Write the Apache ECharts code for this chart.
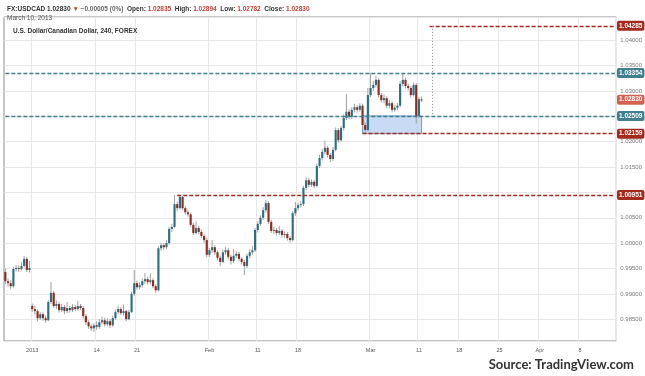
<!DOCTYPE html>
<html>
<head>
<meta charset="utf-8">
<script src="https://cdn.jsdelivr.net/npm/echarts@6/dist/echarts.min.js"></script>
<style>
html, body { margin: 0; padding: 0; background: #fff; }
#chart { width: 645px; height: 376px; }
</style>
</head>
<body>
<div id="chart"></div>
<script>
// USD/CAD, Dec 27 2012 - Mar 10 2013, 3 slots per trading day
var slotCount = 228;

// [open, close, low, high]
var candles = [
    [0.9943, 0.9925, 0.9919, 0.9951],
    [0.9925, 0.9921, 0.9914, 0.9931],
    [0.9921, 0.9915, 0.9909, 0.9927],
    [0.9915, 0.9949, 0.9912, 0.9953],
    [0.9949, 0.9951, 0.9944, 0.9957],
    [0.9951, 0.9949, 0.9943, 0.9956],
    [0.9949, 0.9955, 0.9946, 0.9962],
    [0.9955, 0.9969, 0.9952, 0.9975],
    [0.9969, 0.9947, 0.9943, 0.9973],
    [0.9947, 0.9951, 0.9942, 0.9965],
    [0.9876, 0.9870, 0.9864, 0.9881],
    [0.9870, 0.9866, 0.9859, 0.9876],
    [0.9866, 0.9852, 0.9846, 0.9870],
    [0.9852, 0.9860, 0.9848, 0.9864],
    [0.9860, 0.9852, 0.9847, 0.9864],
    [0.9852, 0.9848, 0.9843, 0.9857],
    [0.9848, 0.9884, 0.9846, 0.9888],
    [0.9884, 0.9902, 0.9880, 0.9923],
    [0.9902, 0.9876, 0.9872, 0.9906],
    [0.9876, 0.9880, 0.9870, 0.9887],
    [0.9880, 0.9868, 0.9863, 0.9884],
    [0.9868, 0.9874, 0.9864, 0.9880],
    [0.9874, 0.9866, 0.9860, 0.9878],
    [0.9866, 0.9872, 0.9862, 0.9884],
    [0.9872, 0.9868, 0.9863, 0.9876],
    [0.9868, 0.9874, 0.9864, 0.9880],
    [0.9874, 0.9870, 0.9866, 0.9878],
    [0.9870, 0.9876, 0.9867, 0.9886],
    [0.9876, 0.9872, 0.9868, 0.9880],
    [0.9872, 0.9856, 0.9851, 0.9876],
    [0.9856, 0.9844, 0.9839, 0.9860],
    [0.9844, 0.9836, 0.9831, 0.9848],
    [0.9836, 0.9832, 0.9827, 0.9840],
    [0.9832, 0.9838, 0.9825, 0.9842],
    [0.9838, 0.9835, 0.9829, 0.9846],
    [0.9835, 0.9844, 0.9831, 0.9850],
    [0.9844, 0.9848, 0.9840, 0.9855],
    [0.9848, 0.9840, 0.9835, 0.9853],
    [0.9840, 0.9846, 0.9836, 0.9852],
    [0.9846, 0.9838, 0.9833, 0.9850],
    [0.9838, 0.9852, 0.9835, 0.9857],
    [0.9852, 0.9864, 0.9849, 0.9869],
    [0.9864, 0.9870, 0.9860, 0.9877],
    [0.9870, 0.9862, 0.9858, 0.9874],
    [0.9862, 0.9866, 0.9857, 0.9879],
    [0.9866, 0.9850, 0.9846, 0.9869],
    [0.9850, 0.9864, 0.9848, 0.9868],
    [0.9864, 0.9900, 0.9862, 0.9904],
    [0.9900, 0.9921, 0.9896, 0.9947],
    [0.9921, 0.9913, 0.9908, 0.9926],
    [0.9913, 0.9917, 0.9909, 0.9923],
    [0.9917, 0.9925, 0.9912, 0.9930],
    [0.9925, 0.9929, 0.9920, 0.9941],
    [0.9929, 0.9923, 0.9918, 0.9933],
    [0.9923, 0.9927, 0.9919, 0.9940],
    [0.9927, 0.9915, 0.9911, 0.9931],
    [0.9915, 0.9907, 0.9902, 0.9919],
    [0.9907, 0.9990, 0.9905, 0.9994],
    [0.9990, 0.9996, 0.9985, 1.0001],
    [0.9996, 0.9992, 0.9986, 1.0000],
    [0.9992, 1.0000, 0.9988, 1.0006],
    [1.0000, 1.0028, 0.9997, 1.0032],
    [1.0028, 1.0032, 1.0022, 1.0038],
    [1.0032, 1.0077, 1.0030, 1.0095],
    [1.0077, 1.0069, 1.0063, 1.0082],
    [1.0069, 1.0091, 1.0066, 1.0095],
    [1.0091, 1.0069, 1.0065, 1.0093],
    [1.0069, 1.0061, 1.0056, 1.0073],
    [1.0061, 1.0057, 1.0052, 1.0066],
    [1.0057, 1.0036, 1.0032, 1.0060],
    [1.0036, 1.0020, 1.0016, 1.0040],
    [1.0020, 1.0030, 1.0017, 1.0043],
    [1.0030, 1.0022, 1.0018, 1.0035],
    [1.0022, 1.0014, 1.0010, 1.0027],
    [1.0014, 1.0006, 1.0000, 1.0018],
    [1.0006, 0.9977, 0.9972, 1.0010],
    [0.9977, 0.9986, 0.9973, 0.9991],
    [0.9986, 0.9992, 0.9981, 1.0006],
    [0.9992, 0.9982, 0.9977, 0.9996],
    [0.9982, 0.9971, 0.9966, 0.9986],
    [0.9971, 0.9963, 0.9955, 0.9975],
    [0.9963, 0.9982, 0.9960, 0.9987],
    [0.9982, 0.9986, 0.9977, 0.9992],
    [0.9986, 0.9973, 0.9968, 0.9990],
    [0.9973, 0.9965, 0.9958, 0.9977],
    [0.9965, 0.9975, 0.9961, 0.9988],
    [0.9975, 0.9979, 0.9970, 0.9984],
    [0.9979, 0.9969, 0.9964, 0.9983],
    [0.9969, 0.9963, 0.9958, 0.9972],
    [0.9963, 0.9955, 0.9937, 0.9967],
    [0.9955, 0.9975, 0.9951, 0.9979],
    [0.9975, 0.9982, 0.9970, 0.9988],
    [0.9982, 0.9986, 0.9977, 0.9994],
    [0.9986, 1.0026, 0.9983, 1.0030],
    [1.0026, 1.0038, 1.0021, 1.0043],
    [1.0038, 1.0050, 1.0034, 1.0055],
    [1.0050, 1.0065, 1.0046, 1.0071],
    [1.0065, 1.0079, 1.0060, 1.0085],
    [1.0079, 1.0042, 1.0038, 1.0083],
    [1.0042, 1.0024, 1.0020, 1.0046],
    [1.0024, 1.0026, 1.0018, 1.0032],
    [1.0026, 1.0020, 1.0015, 1.0030],
    [1.0020, 1.0024, 1.0016, 1.0034],
    [1.0024, 1.0016, 1.0011, 1.0028],
    [1.0016, 1.0018, 1.0010, 1.0023],
    [1.0018, 1.0010, 1.0005, 1.0022],
    [1.0010, 1.0006, 1.0001, 1.0014],
    [1.0006, 1.0059, 1.0003, 1.0063],
    [1.0059, 1.0069, 1.0054, 1.0081],
    [1.0069, 1.0075, 1.0064, 1.0080],
    [1.0075, 1.0077, 1.0070, 1.0083],
    [1.0077, 1.0109, 1.0073, 1.0113],
    [1.0109, 1.0124, 1.0104, 1.0130],
    [1.0124, 1.0115, 1.0110, 1.0129],
    [1.0115, 1.0121, 1.0111, 1.0126],
    [1.0121, 1.0113, 1.0108, 1.0125],
    [1.0113, 1.0152, 1.0110, 1.0157],
    [1.0152, 1.0168, 1.0148, 1.0174],
    [1.0168, 1.0180, 1.0163, 1.0186],
    [1.0180, 1.0188, 1.0175, 1.0202],
    [1.0188, 1.0174, 1.0169, 1.0192],
    [1.0174, 1.0166, 1.0160, 1.0178],
    [1.0166, 1.0184, 1.0162, 1.0190],
    [1.0184, 1.0223, 1.0181, 1.0228],
    [1.0223, 1.0203, 1.0198, 1.0227],
    [1.0203, 1.0227, 1.0200, 1.0231],
    [1.0227, 1.0247, 1.0222, 1.0254],
    [1.0247, 1.0259, 1.0243, 1.0294],
    [1.0259, 1.0249, 1.0244, 1.0264],
    [1.0249, 1.0263, 1.0245, 1.0268],
    [1.0263, 1.0268, 1.0258, 1.0275],
    [1.0268, 1.0263, 1.0257, 1.0272],
    [1.0263, 1.0271, 1.0259, 1.0276],
    [1.0271, 1.0233, 1.0228, 1.0275],
    [1.0233, 1.0223, 1.0216, 1.0238],
    [1.0223, 1.0292, 1.0220, 1.0306],
    [1.0292, 1.0306, 1.0288, 1.0336],
    [1.0306, 1.0312, 1.0300, 1.0320],
    [1.0312, 1.0322, 1.0307, 1.0330],
    [1.0322, 1.0292, 1.0287, 1.0325],
    [1.0292, 1.0282, 1.0277, 1.0296],
    [1.0282, 1.0286, 1.0276, 1.0293],
    [1.0286, 1.0271, 1.0266, 1.0290],
    [1.0271, 1.0276, 1.0266, 1.0282],
    [1.0276, 1.0263, 1.0258, 1.0280],
    [1.0263, 1.0267, 1.0259, 1.0272],
    [1.0267, 1.0271, 1.0262, 1.0277],
    [1.0271, 1.0314, 1.0268, 1.0320],
    [1.0314, 1.0322, 1.0309, 1.0335],
    [1.0322, 1.0310, 1.0305, 1.0326],
    [1.0310, 1.0306, 1.0301, 1.0315],
    [1.0306, 1.0292, 1.0287, 1.0310],
    [1.0292, 1.0312, 1.0289, 1.0317],
    [1.0312, 1.0251, 1.0236, 1.0316],
    [1.0251, 1.0284, 1.0247, 1.0288],
    [1.02835, 1.0283, 1.02782, 1.02894]
];

var xTickSlots = [10, 34, 49, 76, 94, 109, 136, 154, 169, 184, 199, 214];
var xTickText = ['2013', '14', '21', 'Feb', '11', '18', 'Mar', '11', '18', '25', 'Apr', '8'];

var redLevels = [1.04285, 1.02159, 1.00951];
var redLevelFrom = [158, 133, 64];
var tealLevels = [1.03354, 1.02509];
var lastPrice = 1.02830;
var zoneTop = 1.02509;
var zoneBottom = 1.02159;
var zoneSlots = [133, 155];
var measureSlot = 159;

var upColor = '#2f6e80';
var downColor = '#8a2c1f';
var red = '#a32a1d';
var teal = '#3f7f8e';
var font = '"Liberation Sans", Arial, sans-serif';

var cats = [];
for (var i = 0; i < slotCount; i++) {
    cats.push(String(i));
}
var candleData = candles.map(function (c, i) {
    return [i, c[0], c[1], c[2], c[3]];
});

function renderCandle(params, api) {
    var i = api.value(0);
    var o = api.coord([i, api.value(1)]);
    var c = api.coord([i, api.value(2)]);
    var l = api.coord([i, api.value(3)]);
    var h = api.coord([i, api.value(4)]);
    var w = api.size([1, 0])[0] * 0.8;
    var up = api.value(2) >= api.value(1);
    var top = Math.min(o[1], c[1]);
    var hgt = Math.max(Math.abs(o[1] - c[1]), 1);
    return {
        type: 'group',
        children: [
            {
                type: 'line',
                shape: { x1: o[0], y1: h[1], x2: o[0], y2: l[1] },
                style: { stroke: '#a0a0a0', lineWidth: 1 }
            },
            {
                type: 'rect',
                shape: { x: o[0] - w / 2, y: top, width: w, height: hgt },
                style: { fill: up ? upColor : downColor }
            }
        ]
    };
}

function badge(bg, value) {
    var text = value.toFixed(5);
    return {
        show: true,
        position: 'end',
        distance: 2,
        formatter: function () { return text; },
        backgroundColor: bg,
        color: '#fff',
        fontSize: 6.5,
        fontWeight: 'bold',
        fontFamily: font,
        padding: [2, 2, 1, 2],
        borderRadius: 2
    };
}

var levelLines = [];
redLevels.forEach(function (v, k) {
    levelLines.push([
        { coord: [redLevelFrom[k], v], label: badge(red, v), lineStyle: { color: red } },
        { coord: [slotCount - 1, v] }
    ]);
});
tealLevels.forEach(function (v) {
    levelLines.push([
        { coord: [0, v], label: badge(teal, v), lineStyle: { color: teal } },
        { coord: [slotCount - 1, v] }
    ]);
});
levelLines.push([
    { coord: [slotCount - 2, lastPrice], label: badge('#d4604f', lastPrice),
      lineStyle: { color: 'rgba(0,0,0,0)' } },
    { coord: [slotCount - 1, lastPrice] }
]);
levelLines.push([
    { coord: [measureSlot, redLevels[0]], label: { show: false },
      lineStyle: { color: '#8a8a8a', type: [1, 2], width: 1 } },
    { coord: [measureSlot, zoneTop] }
]);

var chart = echarts.init(document.getElementById('chart'));

var option = {
    animation: false,
    backgroundColor: '#fff',
    textStyle: { fontFamily: font },
    title: [
        {
            left: 2, top: 1,
            text: '{b|FX:USDCAD} {n|1.02830} {r|▼} {g|\u22120.00005 (0%)}  {b|Open:} {r|1.02835}  {b|High:} {r|1.02894}  {b|Low:} {r|1.02782}  {b|Close:} {r|1.02830}',
            textStyle: {
                fontSize: 6.5,
                rich: {
                    b: { fontSize: 6.5, fontWeight: 'bold', color: '#333', fontFamily: font },
                    n: { fontSize: 6.5, color: '#333', fontFamily: font },
                    r: { fontSize: 6.5, color: '#b8443a', fontFamily: font },
                    g: { fontSize: 6.5, color: '#666', fontFamily: font }
                }
            }
        },
        {
            left: 2, top: 10,
            text: 'March 10, 2013',
            textStyle: { fontSize: 6.5, fontWeight: 'normal', color: '#555', fontFamily: font }
        },
        {
            left: 8, top: 23,
            text: 'U.S. Dollar/Canadian Dollar, 240, FOREX',
            textStyle: { fontSize: 6.5, fontWeight: 'bold', color: '#333', fontFamily: font }
        },
        {
            right: 6, bottom: 0,
            text: '{s|Source: }{t|TradingView.com}',
            textStyle: {
                rich: {
                    s: { fontSize: 13, color: '#333', fontFamily: 'Lato' },
                    t: { fontSize: 13, color: '#333', fontWeight: 'bold', fontFamily: 'Lato' }
                }
            }
        }
    ],
    grid: {
        left: 4, right: 26, top: 17, bottom: 35,
        show: true, borderColor: '#8c8c8c', borderWidth: 1
    },
    xAxis: {
        type: 'category',
        data: cats,
        boundaryGap: true,
        axisLine: { show: false },
        axisTick: { show: false },
        axisLabel: {
            interval: function (idx) { return xTickSlots.indexOf(idx) >= 0; },
            formatter: function (v) {
                var k = xTickSlots.indexOf(parseInt(v, 10));
                return k >= 0 ? xTickText[k] : '';
            },
            fontSize: 5.5, color: '#555', margin: 6, fontFamily: font
        },
        splitLine: {
            show: true,
            interval: function (idx) { return xTickSlots.indexOf(idx) >= 0; },
            lineStyle: { color: '#e8e8e8', width: 1 }
        }
    },
    yAxis: {
        type: 'value',
        position: 'right',
        min: 0.9807,
        max: 1.0446,
        splitNumber: 12,
        minInterval: 0.005,
        maxInterval: 0.005,
        axisLine: { show: false },
        axisTick: { show: false },
        axisLabel: {
            showMinLabel: false,
            showMaxLabel: false,
            formatter: function (v) { return v.toFixed(5); },
            fontSize: 6, color: '#777', margin: 4, fontFamily: font
        },
        splitLine: { lineStyle: { color: '#e8e8e8', width: 1 } }
    },
    series: [
        {
            type: 'line',
            data: [],
            z: 1,
            markArea: {
                silent: true,
                itemStyle: { color: 'rgba(183,206,240,0.75)', borderColor: '#6e9bd4', borderWidth: 1 },
                data: [[
                    { coord: [zoneSlots[0], zoneTop] },
                    { coord: [zoneSlots[1], zoneBottom] }
                ]]
            }
        },
        {
            type: 'custom',
            renderItem: renderCandle,
            data: candleData,
            encode: { x: 0, y: [1, 2, 3, 4] },
            clip: true,
            z: 3
        },
        {
            type: 'line',
            data: [],
            z: 4,
            markLine: {
                silent: true,
                symbol: ['none', 'none'],
                lineStyle: { type: [4, 2], width: 1.3 },
                data: levelLines
            }
        }
    ]
};

chart.setOption(option);
</script>
</body>
</html>
